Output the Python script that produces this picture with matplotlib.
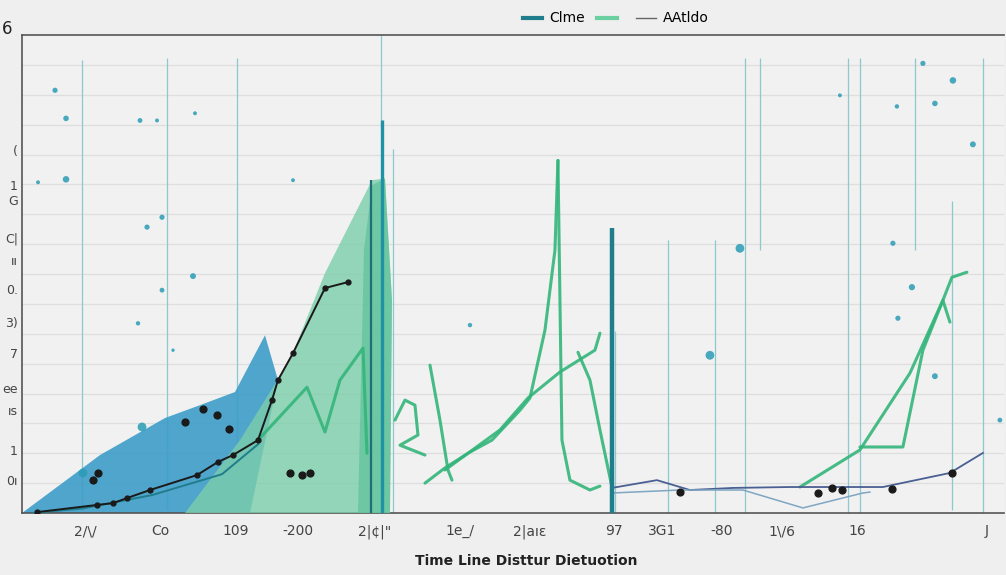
import matplotlib.pyplot as plt
from matplotlib.lines import Line2D

# values (x: 0..982, y: 0..16)
blue_x = [0, 78, 143, 178, 213, 243, 256, 228]
blue_y = [0, 1.94, 3.18, 3.61, 4.05, 5.95, 4.45, 0]

green_x = [163, 218, 268, 303, 350, 363, 370, 368]
green_y = [0, 2.44, 5.12, 8.03, 11.14, 11.2, 7.12, 0]

green_dark_x = [336, 342, 350, 363, 370, 368]
green_dark_y = [0, 8.8, 10.97, 11.2, 7.12, 0]

black_x = [15, 75, 91, 105, 128, 175, 196, 211, 236, 250, 256, 271, 303, 326]
black_y = [0.03, 0.27, 0.33, 0.50, 0.77, 1.27, 1.71, 1.94, 2.44, 3.78, 4.45, 5.35, 7.53, 7.73]

extra_dots_x = [268, 280, 288, 181, 195, 207, 163, 76, 71, 796, 810, 820, 870, 930, 658]
extra_dots_y = [1.34, 1.27, 1.34, 3.48, 3.28, 2.81, 3.04, 1.34, 1.10, 0.67, 0.84, 0.77, 0.80, 1.34, 0.70]

teal_low_x = [10, 60, 130, 200, 236]
teal_low_y = [0.0, 0.15, 0.6, 1.3, 2.3]

green_lines = {
    "zig": ([236, 285, 303, 318, 341, 345], [2.44, 4.21, 2.71, 4.45, 5.52, 2.0]),
    "a": ([408, 418, 426, 430], [4.95, 3.11, 1.44, 1.10]),
    "b": ([403, 423, 448, 470, 498, 508, 523, 533, 536], [1.0, 1.51, 2.04, 2.44, 3.44, 3.85, 6.12, 8.8, 11.8]),
    "c": ([423, 478, 506, 538, 573, 578], [1.44, 2.78, 3.85, 4.72, 5.45, 6.02]),
    "d": ([536, 538, 540, 548, 568, 578], [11.8, 7.12, 2.44, 1.10, 0.77, 0.90]),
    "e": ([556, 568, 578, 590], [5.38, 4.45, 2.78, 0.87]),
    "loop": ([373, 383, 393, 396, 378, 403], [3.11, 3.78, 3.61, 2.61, 2.27, 1.94]),
    "h": ([778, 838, 888, 921, 930, 945], [0.87, 2.11, 4.68, 7.12, 7.89, 8.06]),
    "i": ([838, 881, 901, 921, 928], [2.21, 2.21, 5.45, 7.12, 6.39]),
}

slate_x = [590, 635, 668, 711, 768, 861, 928, 961]
slate_y = [0.84, 1.10, 0.77, 0.84, 0.87, 0.87, 1.34, 2.01]
pale_x = [590, 658, 721, 781, 841, 848]
pale_y = [0.67, 0.77, 0.77, 0.17, 0.67, 0.70]

teal_bars_x = [349, 360, 590]
teal_bars_top = [11.14, 13.14, 9.53]

vline_x = [60, 145, 215, 359, 371, 593, 646, 693, 723, 738, 826, 838, 893, 930, 961]
vline_lo = [0.1, 0.1, 0.1, 12.84, 0, 0, 0, 0, 0, 8.8, 0, 0, 8.8, 0.1, 0]
vline_hi = [15.15, 15.22, 15.22, 15.99, 12.2, 6.09, 9.13, 9.13, 15.22, 15.22, 15.22, 15.22, 15.22, 10.43, 15.22]

spot_x = [33, 44, 118, 135, 173, 44, 271, 16, 125, 140, 171, 140, 116, 151, 120, 61,
          901, 931, 875, 913, 951, 871, 890, 876, 913, 818, 718, 688, 448, 978]
spot_y = [14.15, 13.21, 13.14, 13.14, 13.38, 11.17, 11.14, 11.07, 9.57, 9.90, 7.93, 7.46,
          6.35, 5.45, 2.88, 1.34, 15.05, 14.48, 13.61, 13.71, 12.34, 9.03, 7.56, 6.52, 4.58,
          13.98, 8.86, 5.28, 6.29, 3.11]
spot_s = [14, 16, 12, 8, 8, 22, 8, 8, 14, 14, 18, 12, 10, 6, 40, 40,
          14, 22, 10, 16, 18, 14, 20, 14, 18, 8, 40, 40, 10, 12]

xtick_pos = [63, 138, 214, 276, 353, 438, 508, 592, 640, 700, 760, 835, 965]
xtick_labels = ['2/\\/', 'Co', '109', '-200', '2|¢|"', '1e_/', '2|aıɛ', '97', '3G1', '-80', '1\\/6', '16', 'J']
ytick_pos = [1.10, 2.11, 3.44, 4.18, 5.35, 6.39, 7.49, 8.46, 9.23, 10.47, 10.97, 12.14]
ytick_labels = ['0ı', '1', 'ıs', 'ee', '7', '3)', '0.', 'ıı', 'C|', 'G', '1', '(']

bg = '#efefef'
fig = plt.figure(figsize=(10.06, 5.75), dpi=100, facecolor=bg)
ax = fig.add_axes([0.0219, 0.1078, 0.976, 0.8313], facecolor='#f1f1f1')

for y in range(1, 16):
    ax.axhline(y, color='#dedede', lw=0.9, zorder=0)
ax.vlines(vline_x, vline_lo, vline_hi, colors='#8cc9cc', lw=0.9, zorder=1)

ax.fill(blue_x, blue_y, color='#3d9dc8', alpha=0.9, lw=0, zorder=2)
ax.fill(green_x, green_y, color='#7cceaa', alpha=0.8, lw=0, zorder=3)
ax.fill(green_dark_x, green_dark_y, color='#5cc29a', alpha=0.7, lw=0, zorder=3)

ax.plot(teal_low_x, teal_low_y, color='#1f7d8c', lw=1.4, zorder=4)
for name, (gx, gy) in green_lines.items():
    ax.plot(gx, gy, color='#33b57a', lw=2.2, alpha=0.9, solid_capstyle='round', zorder=5)

ax.vlines(teal_bars_x, 0, teal_bars_top, colors=['#1f6f7a', '#1f93a5', '#1f7d8c'], lw=[1.6, 2.4, 3.2], zorder=6)

ax.plot(slate_x, slate_y, color='#4a5f92', lw=1.3, zorder=5)
ax.plot(pale_x, pale_y, color='#7fa6c2', lw=1.1, zorder=5)

ax.plot(black_x, black_y, color='#1a1a1a', lw=1.4, marker='o', ms=3.5, zorder=7)
ax.scatter(extra_dots_x, extra_dots_y, s=24, color='#1a1a1a', zorder=7)
ax.scatter(spot_x, spot_y, s=spot_s, color='#2a9bb5', alpha=0.85, lw=0, zorder=2)

ax.set_xlim(0, 982)
ax.set_ylim(0, 16)
ax.set_xticks(xtick_pos, xtick_labels)
ax.set_yticks(ytick_pos, ytick_labels)
ax.tick_params(length=0, labelsize=10, colors='#444444', pad=8)
ax.tick_params(axis='y', pad=3, labelsize=9)
for side in ['left', 'top', 'bottom']:
    ax.spines[side].set_color('#555555')
    ax.spines[side].set_linewidth(1.2)
ax.spines['right'].set_visible(False)

handles = [Line2D([], [], color='#1f7d8c', lw=3),
           Line2D([], [], color='#6ccf9f', lw=3),
           Line2D([], [], color='#666666', lw=1)]
fig.legend(handles, ['Clme', '', 'AAtldo'], loc='center', bbox_to_anchor=(0.612, 0.968),
           ncol=3, frameon=False, fontsize=10, handlelength=1.4, handletextpad=0.5,
           columnspacing=0.9)

fig.text(0.002, 0.94, '6', fontsize=12, color='#222222')
fig.text(0.523, 0.018, 'Time Line Disttur Dietuotion', fontsize=10, weight='semibold',
         color='#222222', ha='center')

fig.savefig('out.png', dpi=100, facecolor=bg)
